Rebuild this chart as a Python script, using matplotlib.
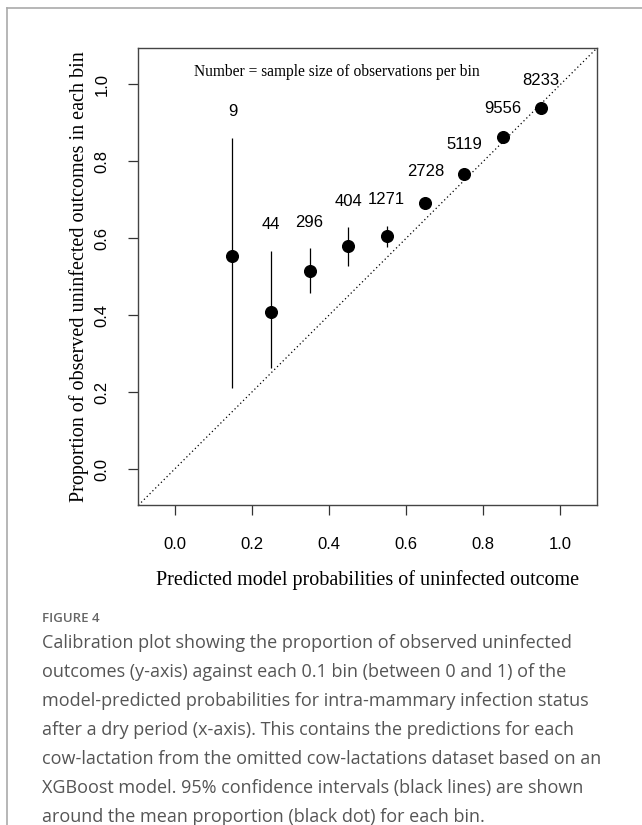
import matplotlib
matplotlib.use("Agg")
import matplotlib.pyplot as plt
from matplotlib.lines import Line2D
import numpy as np

# ---- data ----
bin_mid = [0.15, 0.25, 0.35, 0.45, 0.55, 0.65, 0.75, 0.85, 0.95]
obs_prop = [0.555, 0.409, 0.516, 0.579, 0.606, 0.691, 0.767, 0.864, 0.938]
ci_lower = [0.210, 0.262, 0.457, 0.529, 0.578, 0.677, 0.757, 0.858, 0.933]
ci_upper = [0.862, 0.568, 0.574, 0.629, 0.632, 0.705, 0.777, 0.869, 0.942]
sample_size = ["9", "44", "296", "404", "1271", "2728", "5119", "9556", "8233"]
tick_vals = [0.0, 0.2, 0.4, 0.6, 0.8, 1.0]
tick_labels = ["0.0", "0.2", "0.4", "0.6", "0.8", "1.0"]

x_label = "Predicted model probabilities of uninfected outcome"
y_label = "Proportion of observed uninfected outcomes in each bin"
note = "Number = sample size of observations per bin"
fig_title = "FIGURE 4"
caption = [
    "Calibration plot showing the proportion of observed uninfected",
    "outcomes (y-axis) against each 0.1 bin (between 0 and 1) of the",
    "model-predicted probabilities for intra-mammary infection status",
    "after a dry period (x-axis). This contains the predictions for each",
    "cow-lactation from the omitted cow-lactations dataset based on an",
    "XGBoost model. 95% confidence intervals (black lines) are shown",
    "around the mean proportion (black dot) for each bin.",
]

W, H = 642, 825
fig = plt.figure(figsize=(W / 100, H / 100), dpi=100)

# axes in pixel layout
left, right, top, bottom = 138.3, 596.7, 48.3, 505.3
ax = fig.add_axes([left / W, 1 - bottom / H, (right - left) / W, (bottom - top) / H])
lim = (-0.05 - 0.044, 1.05 + 0.044)
ax.set_xlim(lim)
ax.set_ylim(lim)

serif = "Liberation Serif"
sans = "Liberation Sans"

# diagonal
ax.plot(lim, lim, color="black", linestyle=(0, (1, 2.2)), linewidth=0.9, zorder=1)
# CI lines
ax.vlines(bin_mid, ci_lower, ci_upper, color="black", linewidth=0.9, zorder=2)
# points
ax.plot(bin_mid, obs_prop, "o", color="black", markersize=8.4, zorder=3)
# sample size labels
for xm, up, s in zip(bin_mid, ci_upper, sample_size):
    ax.text(xm, up + 0.068, s, ha="center", va="center", fontsize=12,
            family=sans, color="black")

ax.text(0.42, 1.033, note, ha="center", va="center", fontsize=11.2,
        family=serif, color="black")

ax.set_xticks(tick_vals)
ax.set_xticklabels(tick_labels, fontsize=12, family=sans)
ax.set_yticks(tick_vals)
ax.set_yticklabels(tick_labels, fontsize=12, family=sans, rotation=90, va="center")
ax.tick_params(axis="both", length=7.5, width=0.9, color="#333333", direction="out")
ax.tick_params(axis="x", pad=15)
ax.tick_params(axis="y", pad=13)

for sp in ax.spines.values():
    sp.set_color("#444444")
    sp.set_linewidth(1.0)

ax.set_xlabel(x_label, fontsize=14.5, family=serif, labelpad=13)
ax.set_ylabel(y_label, fontsize=14.5, family=serif, labelpad=4)

# panel frame lines (gray)
fig.add_artist(Line2D([7.3 / W, 1.0], [1 - 8.3 / H, 1 - 8.3 / H],
                      transform=fig.transFigure, color="#aaaaaa", linewidth=1.2))
fig.add_artist(Line2D([7.3 / W, 7.3 / W], [0.0, 1 - 8.3 / H],
                      transform=fig.transFigure, color="#aaaaaa", linewidth=1.2))

# caption
cap_font = "Open Sans"
fig.text(42 / W, 1 - 619 / H, fig_title, fontsize=9.5, family=cap_font,
         color="#666666", ha="left", va="center", fontweight="semibold")
for i, line in enumerate(caption):
    fig.text(42 / W, 1 - (643 + 29 * i) / H, line, fontsize=13, family=cap_font,
             color="#555555", ha="left", va="center", fontweight="normal")

fig.savefig("out.png", dpi=100, facecolor="white")
